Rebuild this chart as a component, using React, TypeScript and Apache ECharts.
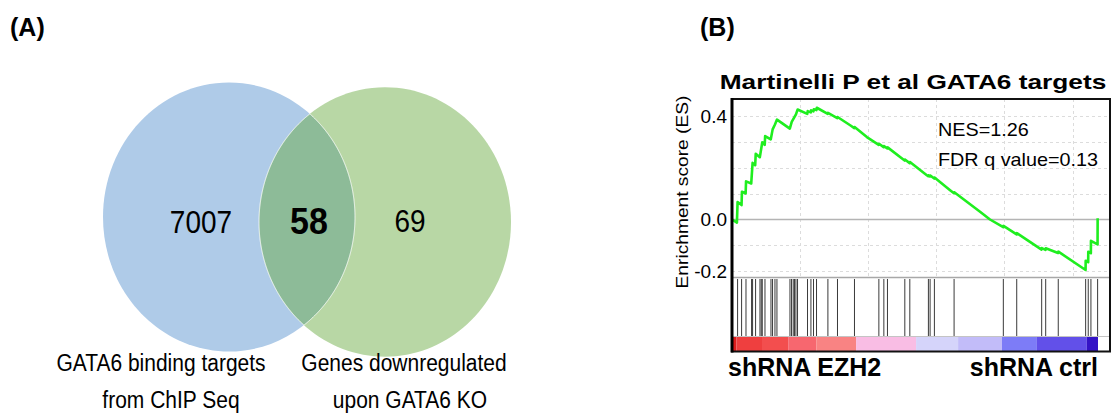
import React, { useEffect, useRef } from 'react';
import * as echarts from 'echarts';

// ---------------- Data ----------------
// Venn (A)
const VENN_COUNTS = [7007, 58, 69]; // only set 1, both, only set 2
const VENN_SET1_LABEL = ['GATA6 binding targets', 'from ChIP Seq'];
const VENN_SET2_LABEL = ['Genes downregulated', 'upon GATA6 KO'];

// GSEA (B)
const GSEA_TITLE = 'Martinelli P et al GATA6 targets';
const GSEA_STATS = ['NES=1.26', 'FDR q value=0.13'];
const PHENOTYPES = ['shRNA EZH2', 'shRNA ctrl'];
const Y_LABEL = 'Enrichment score (ES)';
const Y_TICK_LABELS = [0.4, 0.0, -0.2];
const RANK_AXIS_MAX = 13860;

const ES_RANKS = [
  0, 180, 205, 350, 365, 500, 515, 705, 755, 850, 870, 1020, 1110, 1200, 1215, 1420, 1490,
  1575, 1650, 2120, 2190, 2345, 2405, 2760, 2775, 2885, 2900, 2985, 3000, 3095, 3110, 3510,
  3520, 3860, 3870, 4333, 4485, 4495, 4945, 5380, 5390, 5560, 5570, 5695, 5705, 6330, 6340,
  6515, 6525, 7143, 7195, 7205, 7260, 7270, 7415, 7425, 7997, 8140, 8150, 9095, 9460, 9945,
  9955, 10435, 10445, 11350, 11360, 11495, 11505, 11955, 11968, 12965, 12968, 13060, 13063,
  13158, 13162, 13404, 13407,
];
const ES_SCORES = [
  0.0, -0.012, 0.068, 0.056, 0.108, 0.101, 0.148, 0.14, 0.22, 0.211, 0.255, 0.242, 0.3, 0.29,
  0.324, 0.311, 0.35, 0.369, 0.388, 0.353, 0.379, 0.408, 0.427, 0.41, 0.421, 0.416, 0.424, 0.42,
  0.428, 0.425, 0.434, 0.41, 0.414, 0.394, 0.398, 0.366, 0.355, 0.359, 0.32, 0.29, 0.294, 0.281,
  0.285, 0.276, 0.28, 0.229, 0.233, 0.219, 0.223, 0.172, 0.168, 0.172, 0.167, 0.171, 0.159,
  0.163, 0.114, 0.102, 0.106, 0.03, 0.0, -0.03, -0.025, -0.058, -0.053, -0.117, -0.111, -0.118,
  -0.112, -0.13, -0.125, -0.196, -0.16, -0.166, -0.125, -0.131, -0.083, -0.097, 0.005,
];

const HIT_RANKS = [
  205, 352, 513, 718, 755, 865, 1026, 1073, 1110, 1209, 1429, 1487, 1575, 1648, 2125, 2183,
  2245, 2293, 2344, 2403, 2769, 2894, 2989, 3099, 3516, 3868, 4491, 5385, 5568, 5700, 6337,
  6520, 7201, 7264, 7421, 8143, 9949, 10440, 11355, 11502, 11963, 12967, 13062, 13161, 13406,
];

const BAR_BOUNDS = [0, 160, 1100, 2060, 3090, 4550, 6750, 8290, 9900, 11180, 13010, 13420];
const BAR_COLORS = [
  '#dc1c1c', '#ef3f3f', '#f34e4e', '#f7676f', '#f98383', '#f9bde4', '#d5d4fa', '#c2bcf9',
  '#7d7cf7', '#6250e9', '#3413c6',
];

// ---------------- Layout ----------------
const FONT = '"Liberation Sans", Arial, Helvetica, sans-serif';
const BLUE = { cx: 229, cy: 217, rx: 126, ry: 134.5 };
const GREEN = { cx: 385, cy: 222, rx: 126, ry: 134.7 };

function inside(px: number, py: number, e: typeof BLUE) {
  const dx = (px - e.cx) / e.rx;
  const dy = (py - e.cy) / e.ry;
  return dx * dx + dy * dy <= 1;
}

function lensPoints() {
  const pts: number[][] = [];
  const n = 720;
  for (let i = 0; i <= n; i++) {
    const t = Math.PI / 2 + (Math.PI * i) / n;
    const x = GREEN.cx + GREEN.rx * Math.cos(t);
    const y = GREEN.cy + GREEN.ry * Math.sin(t);
    if (inside(x, y, BLUE)) pts.push([x, y]);
  }
  for (let i = 0; i <= n; i++) {
    const t = -Math.PI / 2 + (Math.PI * i) / n;
    const x = BLUE.cx + BLUE.rx * Math.cos(t);
    const y = BLUE.cy + BLUE.ry * Math.sin(t);
    if (inside(x, y, GREEN)) pts.push([x, y]);
  }
  return pts;
}

function txt(
  text: string,
  x: number,
  y: number,
  size: number,
  align: string,
  bold = false,
  extra: any = {}
) {
  return {
    type: 'text',
    x,
    y,
    z: 50,
    ...extra,
    style: {
      text,
      fontSize: size,
      fontFamily: FONT,
      fontWeight: bold ? 'bold' : 'normal',
      fill: '#000',
      align,
      textAlign: align,
      verticalAlign: 'middle',
      textVerticalAlign: 'middle',
    },
  };
}

function buildOption(): any {
  const esData = ES_RANKS.map((r, i) => [r, ES_SCORES[i]]);
  const barData = BAR_COLORS.map((_, i) => [BAR_BOUNDS[i], BAR_BOUNDS[i + 1], i]);
  const hitData = HIT_RANKS.map((r) => [r]);

  const L = 732;
  const R = 8;
  const axisBase = (gi: number, split: boolean) => ({
    type: 'value',
    gridIndex: gi,
    min: 0,
    max: RANK_AXIS_MAX,
    interval: 2500,
    axisLine: { show: false },
    axisTick: { show: false },
    axisLabel: { show: false },
    splitLine: { show: split, lineStyle: { color: '#dcdcdc', type: [3, 3], width: 1 } },
  });
  const hiddenY = (gi: number) => ({ type: 'value', gridIndex: gi, min: 0, max: 1, show: false });

  return {
    animation: false,
    backgroundColor: '#fff',
    grid: [
      { left: L, right: R, top: 99, bottom: 137 },
      { left: L, right: R, top: 116.5, bottom: 143 },
      { left: L, right: R, top: 279, bottom: 78 },
      { left: L, right: R, top: 337, bottom: 63 },
    ],
    xAxis: [axisBase(0, true), axisBase(1, false), axisBase(2, false), axisBase(3, false)],
    yAxis: [
      hiddenY(0),
      {
        type: 'value',
        gridIndex: 1,
        min: -0.2,
        max: 0.4,
        interval: 0.1,
        axisLine: { show: false },
        axisTick: { show: false },
        axisLabel: {
          color: '#000',
          fontSize: 19,
          fontFamily: FONT,
          margin: 5,
          formatter: (v: number) =>
            Y_TICK_LABELS.some((t) => Math.abs(t - v) < 1e-9) ? v.toFixed(1) : '',
        },
        splitLine: { show: true, lineStyle: { color: '#dcdcdc', type: [3, 3], width: 1 } },
      },
      hiddenY(2),
      hiddenY(3),
    ],
    series: [
      {
        type: 'line',
        xAxisIndex: 1,
        yAxisIndex: 1,
        data: [
          [0, 0],
          [RANK_AXIS_MAX, 0],
        ],
        showSymbol: false,
        silent: true,
        z: 1,
        lineStyle: { color: '#b4b4b4', width: 1.5 },
      },
      {
        type: 'line',
        xAxisIndex: 1,
        yAxisIndex: 1,
        data: esData,
        showSymbol: false,
        clip: false,
        z: 5,
        lineStyle: { color: '#1fee1f', width: 2.6, join: 'round' },
      },
      {
        type: 'custom',
        xAxisIndex: 2,
        yAxisIndex: 2,
        data: hitData,
        encode: { x: 0 },
        renderItem: (params: any, api: any) => {
          const v = api.value(0);
          const top = api.coord([v, 1]);
          const bot = api.coord([v, 0]);
          return {
            type: 'line',
            shape: { x1: top[0], y1: top[1], x2: bot[0], y2: bot[1] },
            style: { stroke: '#3a3a3a', lineWidth: 1 },
          };
        },
      },
      {
        type: 'custom',
        xAxisIndex: 3,
        yAxisIndex: 3,
        data: barData,
        encode: { x: [0, 1] },
        renderItem: (params: any, api: any) => {
          const p0 = api.coord([api.value(0), 1]);
          const p1 = api.coord([api.value(1), 0]);
          return {
            type: 'rect',
            shape: { x: p0[0], y: p0[1], width: p1[0] - p0[0], height: p1[1] - p0[1] },
            style: { fill: BAR_COLORS[api.value(2)] },
          };
        },
      },
    ],
    graphic: [
      // Venn
      {
        type: 'ellipse',
        shape: BLUE,
        style: { fill: '#afcbe8' },
        z: 1,
      },
      {
        type: 'ellipse',
        shape: GREEN,
        style: { fill: '#b8d7a5' },
        z: 2,
      },
      {
        type: 'polygon',
        shape: { points: lensPoints() },
        style: { fill: '#8dbb98', stroke: 'rgba(255,255,255,0.85)', lineWidth: 1 },
        z: 3,
      },
      txt(String(VENN_COUNTS[0]), 201, 222, 28, 'center', false, { scaleY: 1.12 }),
      txt(String(VENN_COUNTS[1]), 309, 221, 34, 'center', true, { scaleY: 1.08 }),
      txt(String(VENN_COUNTS[2]), 410, 221, 28, 'center', false, { scaleY: 1.12 }),
      txt(VENN_SET1_LABEL[0], 161, 363, 21, 'center', false, { scaleY: 1.12 }),
      txt(VENN_SET1_LABEL[1], 171, 400, 21, 'center', false, { scaleY: 1.12 }),
      txt(VENN_SET2_LABEL[0], 404, 363, 21, 'center', false, { scaleY: 1.12 }),
      txt(VENN_SET2_LABEL[1], 410, 400, 21, 'center', false, { scaleY: 1.12 }),
      txt('(A)', 10, 27, 25, 'left', true),
      txt('(B)', 700, 27, 25, 'left', true),
      // GSEA texts
      txt(GSEA_TITLE, 913, 81, 21, 'center', true, { scaleX: 1.25 }),
      txt(GSEA_STATS[0], 938, 130, 18, 'left', false, { scaleX: 1.1 }),
      txt(GSEA_STATS[1], 938, 160, 18, 'left', false, { scaleX: 1.1 }),
      txt(Y_LABEL, 683, 192, 16, 'center', false, { rotation: Math.PI / 2, scaleX: 1.2 }),
      txt(PHENOTYPES[0], 728, 367, 25, 'left', true),
      txt(PHENOTYPES[1], 1098, 367, 25, 'right', true),
      // frame
      {
        type: 'line',
        shape: { x1: 732, y1: 277.5, x2: 1110, y2: 277.5 },
        style: { stroke: '#a8a8a8', lineWidth: 1.5 },
        z: 40,
      },
      {
        type: 'line',
        shape: { x1: 732, y1: 336.5, x2: 1110, y2: 336.5 },
        style: { stroke: '#c4c4c4', lineWidth: 1 },
        z: 40,
      },
      {
        type: 'rect',
        shape: { x: 732, y: 99, width: 378, height: 252.5 },
        style: { fill: 'none', stroke: '#111', lineWidth: 2 },
        z: 45,
      },
      {
        type: 'line',
        shape: { x1: 732, y1: 98, x2: 732, y2: 352.5 },
        style: { stroke: '#000', lineWidth: 3 },
        z: 46,
      },
    ],
  };
}

export default function App() {
  const ref = useRef<HTMLDivElement>(null);
  useEffect(() => {
    document.body.style.margin = '0';
    const chart = echarts.init(ref.current!, null, { renderer: 'svg' });
    chart.setOption(buildOption());
    return () => chart.dispose();
  }, []);
  return <div ref={ref} style={{ width: 1118, height: 414 }} />;
}
